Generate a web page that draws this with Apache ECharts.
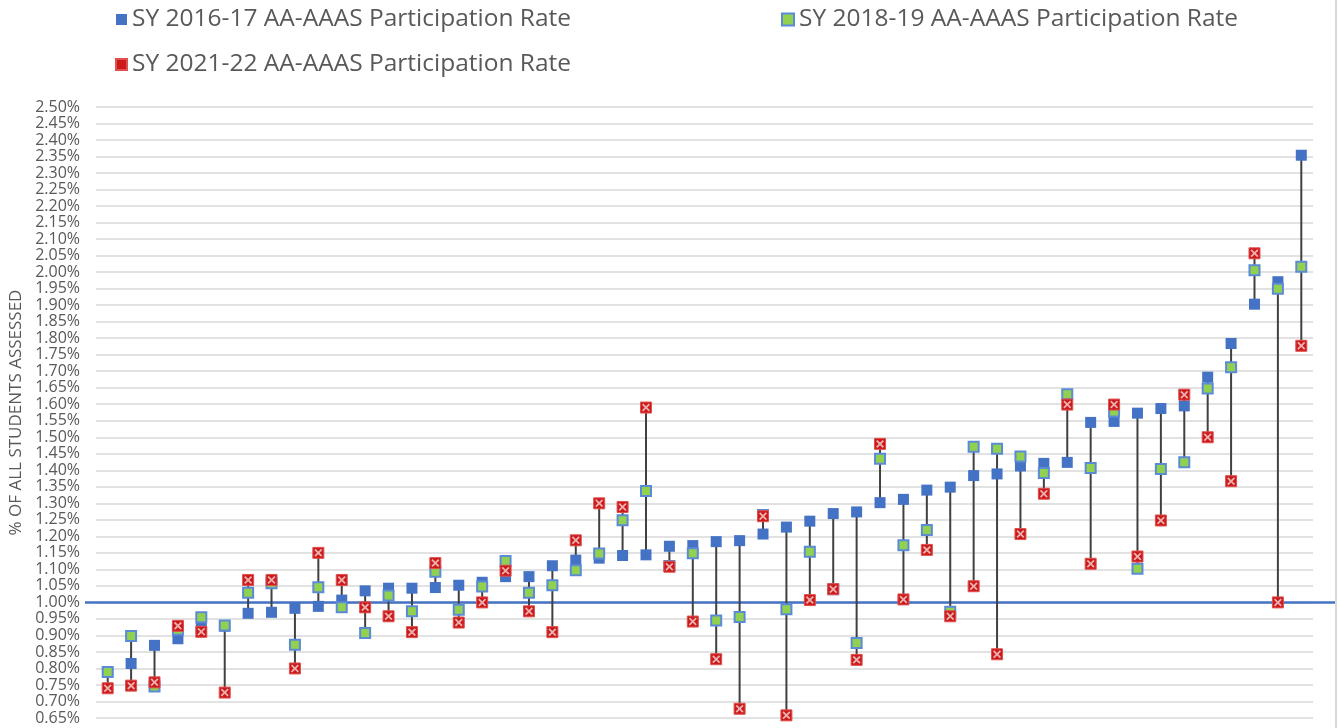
<!DOCTYPE html>
<html>
<head>
<meta charset="utf-8">
<title>AA-AAAS Participation Rate</title>
<script src="https://cdn.jsdelivr.net/npm/echarts@6/dist/echarts.min.js"></script>
<style>
  html, body { margin: 0; padding: 0; background: #fff; }
  #chart { width: 1341px; height: 728px; }
</style>
</head>
<body>
<div id="chart"></div>
<script>
// values in percent, one entry per state, sorted by SY 2016-17
const sy1617 = [
  0.790, 0.815, 0.870, 0.890, 0.925, 0.928, 0.967, 0.970, 0.982, 0.988,
  1.007, 1.035, 1.043, 1.043, 1.045, 1.052, 1.061, 1.078, 1.078, 1.111,
  1.128, 1.134, 1.142, 1.144, 1.170, 1.172, 1.184, 1.187, 1.207, 1.228,
  1.246, 1.269, 1.274, 1.302, 1.312, 1.340, 1.349, 1.384, 1.389, 1.413,
  1.421, 1.424, 1.545, 1.548, 1.573, 1.587, 1.595, 1.682, 1.784, 1.903,
  1.971, 2.354
];
const sy1819 = [
  0.789, 0.898, 0.745, 0.917, 0.955, 0.930, 1.029, 1.058, 0.872, 1.046,
  0.985, 0.907, 1.021, 0.973, 1.093, 0.978, 1.048, 1.125, 1.029, 1.052,
  1.097, 1.148, 1.249, 1.337, 1.110, 1.149, 0.945, 0.956, 1.265, 0.979,
  1.153, 1.040, 0.877, 1.435, 1.173, 1.219, 0.972, 1.471, 1.465, 1.442,
  1.392, 1.630, 1.407, 1.578, 1.102, 1.404, 1.424, 1.648, 1.712, 2.006,
  1.950, 2.016
];
const sy2122 = [
  0.740, 0.748, 0.758, 0.929, 0.911, 0.727, 1.068, 1.068, 0.800, 1.150,
  1.068, 0.985, 0.958, 0.910, 1.119, 0.939, 1.000, 1.096, 0.973, 0.910,
  1.188, 1.300, 1.289, 1.590, 1.108, 0.942, 0.828, 0.678, 1.261, 0.658,
  1.007, 1.040, 0.826, 1.480, 1.009, 1.159, 0.958, 1.049, 0.843, 1.207,
  1.329, 1.599, 1.117, 1.599, 1.139, 1.248, 1.629, 1.500, 1.367, 2.057,
  1.000, 1.777
];
const baseline = [1.0];
const yMin = 0.65, yMax = 2.5, yStep = 0.05;

const names = [
  "SY 2016-17 AA-AAAS Participation Rate",
  "SY 2018-19 AA-AAAS Participation Rate",
  "SY 2021-22 AA-AAAS Participation Rate",
];
const states = sy1617.map((_, i) => String(i + 1));

// high-low line per state
const spans = sy1617.map((v, i) => {
  const vals = [v, sy1819[i], sy2122[i]];
  return [i, Math.min(...vals), Math.max(...vals)];
});

const FONT = "'Open Sans', Lato, sans-serif";
const TXT = "#595959";
const xPath = "path://M0 0.16L0.16 0L0.5 0.34L0.84 0L1 0.16L0.66 0.5L1 0.84L0.84 1L0.5 0.66L0.16 1L0 0.84L0.34 0.5Z";

const chart = echarts.init(document.getElementById("chart"));
chart.setOption({
  animation: false,
  backgroundColor: "#fff",
  textStyle: { fontFamily: FONT },
  graphic: [
    {
      type: "line",
      shape: { x1: 1336, y1: 0, x2: 1336, y2: 728 },
      style: { stroke: "#d9d9d9", lineWidth: 2 },
    },
  ],
  legend: [
    {
      data: [names[0], names[2]],
      orient: "vertical",
      left: 110,
      top: 2,
      itemGap: 20,
      itemWidth: 11,
      itemHeight: 11,
      textStyle: { fontSize: 24.5, color: TXT, fontFamily: FONT },
    },
    {
      data: [names[1]],
      orient: "vertical",
      left: 776,
      top: 2,
      itemWidth: 12,
      itemHeight: 12,
      textStyle: { fontSize: 24.5, color: TXT, fontFamily: FONT },
    },
  ],
  grid: {
    left: 96,
    right: 28,
    top: 107,
    bottom: 10,
    containLabel: false,
    outerBoundsMode: "none",
  },
  xAxis: {
    type: "category",
    data: states,
    axisLine: { show: false },
    axisTick: { show: false },
    axisLabel: { show: false },
  },
  yAxis: {
    type: "value",
    min: yMin,
    max: yMax,
    interval: yStep,
    name: "% OF ALL STUDENTS ASSESSED",
    nameLocation: "middle",
    nameGap: 69,
    nameTextStyle: { fontSize: 17, color: TXT, fontFamily: FONT },
    axisLine: { show: false },
    axisTick: { show: false },
    axisLabel: {
      fontSize: 16,
      color: TXT,
      margin: 16,
      fontFamily: FONT,
      formatter: (v) => v.toFixed(2) + "%",
    },
    splitLine: { lineStyle: { color: "#d9d9d9", width: 1.5 } },
  },
  series: [
    {
      type: "custom",
      name: "baseline",
      silent: true,
      z: 1,
      clip: false,
      data: baseline.map((v) => [0, v]),
      encode: { x: 0, y: 1 },
      renderItem: (params, api) => {
        const y = api.coord([0, api.value(1)])[1];
        const cs = params.coordSys;
        return {
          type: "line",
          shape: { x1: cs.x - 11, y1: y, x2: cs.x + cs.width + 22, y2: y },
          style: { stroke: "#4472C4", lineWidth: 2.5 },
        };
      },
    },
    {
      type: "custom",
      name: "range",
      silent: true,
      z: 2,
      data: spans,
      encode: { x: 0, y: [1, 2] },
      renderItem: (params, api) => {
        const lo = api.coord([api.value(0), api.value(1)]);
        const hi = api.coord([api.value(0), api.value(2)]);
        return {
          type: "line",
          shape: { x1: lo[0], y1: lo[1], x2: hi[0], y2: hi[1] },
          style: { stroke: "#404040", lineWidth: 2 },
        };
      },
    },
    {
      type: "scatter",
      name: names[0],
      z: 3,
      symbol: "rect",
      symbolSize: 11,
      itemStyle: { color: "#4472C4", opacity: 1 },
      data: sy1617,
    },
    {
      type: "scatter",
      name: names[1],
      z: 4,
      symbol: "rect",
      symbolSize: 10,
      itemStyle: { color: "#92D050", borderColor: "#5B8BD6", borderWidth: 2, opacity: 1 },
      data: sy1819,
    },
    {
      type: "scatter",
      name: names[2],
      z: 5,
      symbol: "rect",
      symbolSize: 11,
      itemStyle: { color: "#CC1A1A", borderColor: "#E05050", borderWidth: 1, opacity: 1 },
      data: sy2122,
    },
    {
      type: "scatter",
      name: "x-mark",
      z: 6,
      silent: true,
      symbol: xPath,
      symbolSize: 8,
      itemStyle: { color: "#EBB0B0", opacity: 1 },
      data: sy2122,
    },
  ],
});
</script>
</body>
</html>
